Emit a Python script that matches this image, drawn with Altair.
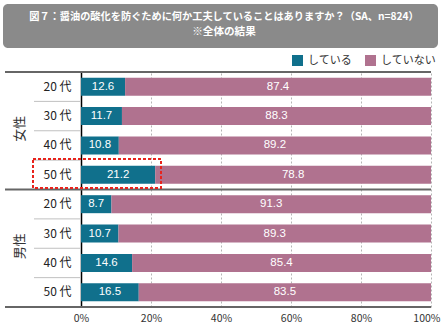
import altair as alt
import pandas as pd

# ---- data ----
genders = ["女性", "女性", "女性", "女性", "男性", "男性", "男性", "男性"]
ages = ["20 代", "30 代", "40 代", "50 代", "20 代", "30 代", "40 代", "50 代"]
doing = [12.6, 11.7, 10.8, 21.2, 8.7, 10.7, 14.6, 16.5]
not_doing = [87.4, 88.3, 89.2, 78.8, 91.3, 89.3, 85.4, 83.5]
series = ["している", "していない"]
colors = ["#10708c", "#b0728f"]
x_ticks = [0, 10, 20, 30, 40, 50, 60, 70, 80, 90, 100]
title_lines = ["図７：醤油の酸化を防ぐために何か工夫していることはありますか？（SA、n=824）", "※全体の結果"]
group_labels = ["女性", "男性"]

keys = [g + "|" + a for g, a in zip(genders, ages)]
rows = []
for k, g, a, d, n in zip(keys, genders, ages, doing, not_doing):
    rows.append(dict(key=k, gender=g, age=a, series=series[0], value=d, ord=0))
    rows.append(dict(key=k, gender=g, age=a, series=series[1], value=n, ord=1))
df = pd.DataFrame(rows)
row_df = pd.DataFrame({"key": keys, "age": ages})
one = pd.DataFrame({"a": [0]})

W, H = 350, 235
JP = "Noto Sans CJK JP"
NUM = "Liberation Sans"

yscale = alt.Scale(domain=keys, paddingInner=0, paddingOuter=0)
xscale = alt.Scale(domain=[0, 100], nice=False)

base = alt.Chart(df).transform_stack(
    stack="value", groupby=["key"], as_=["x0", "x1"],
    sort=[alt.SortField("ord", order="ascending")]
)

bars = base.mark_bar(size=18).encode(
    x=alt.X("x0:Q", scale=xscale,
            axis=alt.Axis(values=x_ticks,
                          labelExpr="datum.value % 20 == 0 ? datum.value + '%' : ''",
                          grid=True, gridDash=[2, 2], gridColor="#b5b5b5", gridWidth=1,
                          domain=False, ticks=False, labelPadding=6, title=None,
                          labelFlush=False,
                          labelAlign={"condition": {"test": "datum.value == 100", "value": "right"}, "value": "center"},
                          labelOffset={"condition": {"test": "datum.value == 100", "value": 9}, "value": 0},
                          labelFont=JP, labelFontSize=10.5, labelColor="#333")),
    x2="x1:Q",
    y=alt.Y("key:N", scale=yscale, sort=keys,
            axis=alt.Axis(labelExpr="split(datum.label, '|')[1]", ticks=False,
                          domainColor="#000", domainWidth=1.5, labelPadding=10,
                          title=None, grid=False, labelFont=JP, labelFontSize=12,
                          labelColor="#222")),
    color=alt.Color("series:N",
                    scale=alt.Scale(domain=series, range=colors),
                    legend=alt.Legend(orient="none", legendX=211, legendY=-17,
                                      direction="horizontal", title=None,
                                      symbolType="square", symbolSize=121,
                                      symbolStrokeWidth=0, symbolOpacity=1,
                                      labelFont=JP, labelFontSize=11, labelColor="#333",
                                      labelOffset=5, columnPadding=13)),
    order=alt.Order("ord:Q"),
)

labels = base.transform_calculate(mid="(datum.x0 + datum.x1) / 2").mark_text(
    color="white", font=NUM, fontSize=11.5
).encode(
    x=alt.X("mid:Q", scale=xscale),
    y=alt.Y("key:N", scale=yscale, sort=keys),
    text=alt.Text("value:Q", format=".1f"),
)

# thin row separators in the label column
row_lines = alt.Chart(row_df).transform_filter(
    "datum.age != '20 代'"
).mark_rule(color="#c0c0c0", strokeWidth=1).encode(
    y=alt.Y("key:N", scale=yscale, sort=keys, bandPosition=0),
    x=alt.value(-47), x2=alt.value(0),
)

# thick horizontal rules (top, group separator, bottom)
def hline(py):
    return alt.Chart(one).mark_rule(color="#666", strokeWidth=2).encode(
        y=alt.value(py), x=alt.value(-76), x2=alt.value(W)
    )

# group labels
def glabel(txt, py):
    return alt.Chart(one).mark_text(
        text=txt, angle=270, font=JP, fontSize=13, color="#333"
    ).encode(x=alt.value(-61), y=alt.value(py))

# red dotted highlight box
redbox = alt.Chart(one).mark_rect(
    fillOpacity=0, stroke="#e8231c", strokeDash=[3, 2], strokeWidth=2
).encode(
    x=alt.value(-48), x2=alt.value(80), y=alt.value(87), y2=alt.value(116)
)

# title box
tbox = alt.Chart(one).mark_rect(color="#8a8a8a", cornerRadius=5).encode(
    x=alt.value(-78), x2=alt.value(357), y=alt.value(-68), y2=alt.value(-24)
)
t1 = alt.Chart(one).mark_text(
    text=title_lines[0], font=JP, fontSize=10.2, fontWeight="bold", color="white"
).encode(x=alt.value(143), y=alt.value(-55))
t2 = alt.Chart(one).mark_text(
    text=title_lines[1], font=JP, fontSize=10.6, fontWeight="bold", color="white"
).encode(x=alt.value(143), y=alt.value(-40))

chart = alt.layer(
    tbox, t1, t2, bars, labels, row_lines,
    hline(0), hline(H / 2), hline(H),
    glabel(group_labels[0], H * 0.25 - 2), glabel(group_labels[1], H * 0.75 - 2),
    redbox
).properties(
    width=W, height=H,
    autosize=alt.AutoSizeParams(type="none"),
    padding={"left": 81, "top": 72, "right": 10, "bottom": 25},
    background="white",
).configure_view(stroke=None)

chart.save("out.html", embed_options={"renderer": "svg", "actions": False})
